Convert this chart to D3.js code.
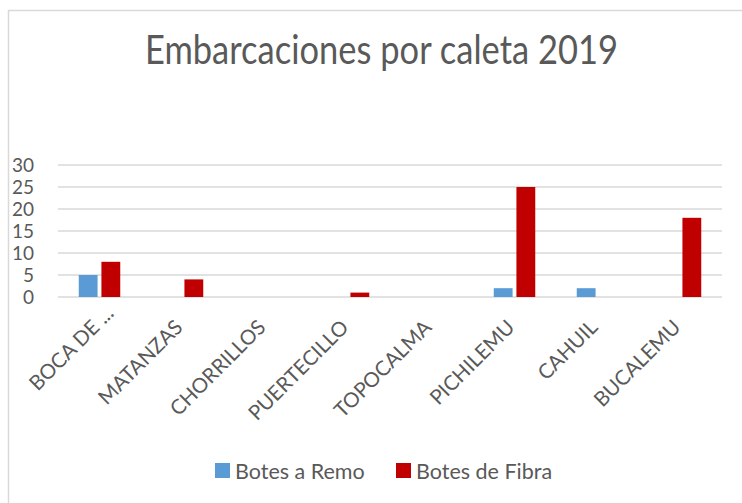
<!DOCTYPE html>
<html>
<head>
<meta charset="utf-8">
<script src="https://cdn.jsdelivr.net/npm/d3@7/dist/d3.min.js"></script>
<style>
  html, body { margin: 0; padding: 0; background: #fff; }
  svg { display: block; }
  text { font-family: Lato, "Open Sans", sans-serif; fill: #595959; }
</style>
</head>
<body>
<svg id="chart" width="742" height="503"></svg>
<script>
const categories = ["BOCA DE ...", "MATANZAS", "CHORRILLOS", "PUERTECILLO", "TOPOCALMA", "PICHILEMU", "CAHUIL", "BUCALEMU"];
const seriesNames = ["Botes a Remo", "Botes de Fibra"];
const botesRemo = [5, 0, 0, 0, 0, 2, 2, 0];
const botesFibra = [8, 4, 0, 1, 0, 25, 0, 18];
const yTicks = [0, 5, 10, 15, 20, 25, 30];
const colors = ["#5b9bd5", "#c00000"];
const title = "Embarcaciones por caleta 2019";

const seriesValues = [botesRemo, botesFibra];
const svg = d3.select("#chart");

// chart border
svg.append("rect")
  .attr("x", 8.5).attr("y", 10.5)
  .attr("width", 800).attr("height", 600)
  .attr("fill", "none").attr("stroke", "#d9d9d9").attr("stroke-width", 1.5);

const plot = { left: 58, right: 722, top: 165, bottom: 297 };

const x0 = d3.scaleBand().domain(categories)
  .range([plot.left, plot.right]).paddingInner(0.5).paddingOuter(0.25);
const x1 = d3.scaleBand().domain(seriesNames)
  .range([0, x0.bandwidth()]).paddingInner(0.17);
const y = d3.scaleLinear().domain([0, 30]).range([plot.bottom, plot.top]);

// gridlines
svg.append("g").selectAll("line").data(yTicks).join("line")
  .attr("x1", plot.left).attr("x2", plot.right)
  .attr("y1", d => y(d)).attr("y2", d => y(d))
  .attr("stroke", "#d9d9d9").attr("stroke-width", 1.5);

// y axis labels
const yAxis = d3.axisLeft(y).tickValues(yTicks).tickSize(0).tickPadding(0);
const gy = svg.append("g").attr("transform", "translate(34,0)").call(yAxis);
gy.select(".domain").remove();
gy.selectAll("text")
  .style("font-family", "Lato, sans-serif")
  .style("font-size", "19px")
  .attr("fill", "#595959").attr("dy", "0.36em");

// bars
const groups = svg.append("g").selectAll("g").data(categories).join("g")
  .attr("transform", d => `translate(${x0(d)},0)`);
groups.selectAll("rect")
  .data((c, i) => seriesNames.map((s, j) => ({ s, j, v: seriesValues[j][i] })))
  .join("rect")
  .filter(d => d.v > 0)
  .attr("x", d => x1(d.s))
  .attr("width", x1.bandwidth())
  .attr("y", d => y(d.v))
  .attr("height", d => y(0) - y(d.v))
  .attr("fill", d => colors[d.j]);

// x axis labels
const xAxis = d3.axisBottom(x0).tickSize(0).tickPadding(0);
const gx = svg.append("g").attr("transform", "translate(0,330)").call(xAxis);
gx.select(".domain").remove();
gx.selectAll(".tick text")
  .style("font-family", "Lato, sans-serif")
  .style("font-size", "20.5px")
  .attr("fill", "#595959")
  .attr("text-anchor", "end")
  .attr("x", 2).attr("y", 0).attr("dy", 0)
  .attr("transform", "rotate(-45)")
  .each(function(d) {
    // ellipsis overflows past the anchor, as in the original
    const m = d.match(/\s*\.\.\.$/);
    if (m) {
      const n = m[0].length;
      const w = this.getSubStringLength(d.length - n, n);
      d3.select(this).attr("dx", w);
    }
  });

// title
svg.append("text")
  .attr("x", 381.5).attr("y", 64)
  .attr("text-anchor", "middle")
  .style("font-size", "41px")
  .attr("textLength", 473).attr("lengthAdjust", "spacingAndGlyphs")
  .text(title);

// legend
const legend = svg.append("g").selectAll("g").data(seriesNames).join("g")
  .attr("transform", (d, i) => `translate(${[215, 396][i]},0)`);
legend.append("rect")
  .attr("x", 0).attr("y", 463).attr("width", 15).attr("height", 15)
  .attr("fill", (d, i) => colors[i]);
legend.append("text")
  .attr("x", 20).attr("y", 479)
  .style("font-size", "21.5px")
  .text(d => d);
</script>
</body>
</html>
